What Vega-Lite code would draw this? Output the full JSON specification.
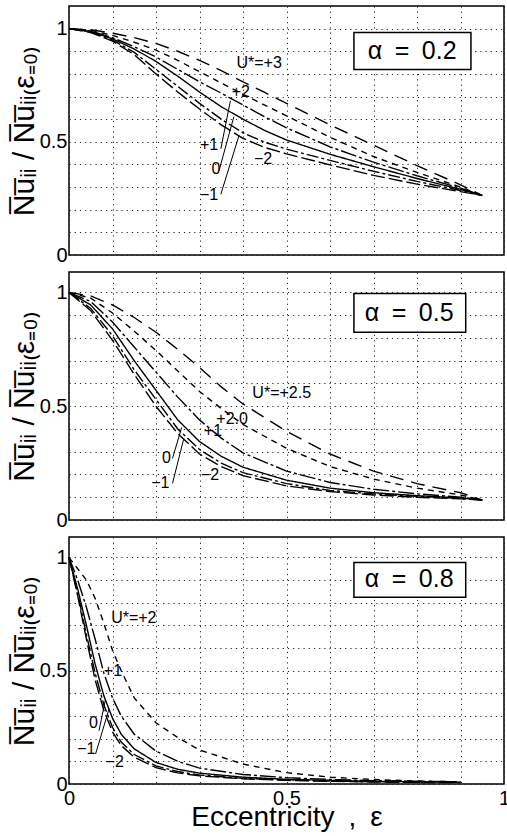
{
"$schema":"https://vega.github.io/schema/vega-lite/v6.json",
"padding":{"left":8,"top":4,"right":2,"bottom":0},
"spacing":17,
"bounds":"flush",
"background":"white",
"config":{
 "view":{"stroke":"black","strokeWidth":1.5},
 "axis":{"labelFont":"Liberation Sans","labelFontSize":20,"labelColor":"black","titleFont":"Liberation Sans","titleColor":"black","titleFontWeight":"normal","domain":false,"tickColor":"black","tickWidth":1.5,"tickSize":0,"gridColor":"#222","gridDash":[1.2,4],"gridWidth":1},
 "text":{"font":"Liberation Sans","color":"black"}
},
"datasets":{
 "c1":[
  {"x":0,"y":1,"U":"+3"},{"x":0.05,"y":0.995,"U":"+3"},{"x":0.1,"y":0.98,"U":"+3"},{"x":0.15,"y":0.96,"U":"+3"},{"x":0.2,"y":0.935,"U":"+3"},{"x":0.25,"y":0.9,"U":"+3"},{"x":0.3,"y":0.86,"U":"+3"},{"x":0.35,"y":0.815,"U":"+3"},{"x":0.4,"y":0.765,"U":"+3"},{"x":0.45,"y":0.718,"U":"+3"},{"x":0.5,"y":0.67,"U":"+3"},{"x":0.6,"y":0.575,"U":"+3"},{"x":0.7,"y":0.485,"U":"+3"},{"x":0.8,"y":0.395,"U":"+3"},{"x":0.9,"y":0.31,"U":"+3"},{"x":0.95,"y":0.263,"U":"+3"},
  {"x":0,"y":1,"U":"+2"},{"x":0.05,"y":0.993,"U":"+2"},{"x":0.1,"y":0.97,"U":"+2"},{"x":0.15,"y":0.94,"U":"+2"},{"x":0.2,"y":0.905,"U":"+2"},{"x":0.25,"y":0.86,"U":"+2"},{"x":0.3,"y":0.81,"U":"+2"},{"x":0.35,"y":0.76,"U":"+2"},{"x":0.4,"y":0.71,"U":"+2"},{"x":0.45,"y":0.662,"U":"+2"},{"x":0.5,"y":0.615,"U":"+2"},{"x":0.6,"y":0.52,"U":"+2"},{"x":0.7,"y":0.435,"U":"+2"},{"x":0.8,"y":0.365,"U":"+2"},{"x":0.9,"y":0.3,"U":"+2"},{"x":0.95,"y":0.263,"U":"+2"},
  {"x":0,"y":1,"U":"+1"},{"x":0.05,"y":0.99,"U":"+1"},{"x":0.1,"y":0.96,"U":"+1"},{"x":0.15,"y":0.92,"U":"+1"},{"x":0.2,"y":0.875,"U":"+1"},{"x":0.25,"y":0.82,"U":"+1"},{"x":0.3,"y":0.765,"U":"+1"},{"x":0.35,"y":0.715,"U":"+1"},{"x":0.4,"y":0.663,"U":"+1"},{"x":0.45,"y":0.61,"U":"+1"},{"x":0.5,"y":0.562,"U":"+1"},{"x":0.6,"y":0.478,"U":"+1"},{"x":0.7,"y":0.41,"U":"+1"},{"x":0.8,"y":0.35,"U":"+1"},{"x":0.9,"y":0.295,"U":"+1"},{"x":0.95,"y":0.263,"U":"+1"},
  {"x":0,"y":1,"U":"0"},{"x":0.05,"y":0.988,"U":"0"},{"x":0.1,"y":0.955,"U":"0"},{"x":0.15,"y":0.91,"U":"0"},{"x":0.2,"y":0.855,"U":"0"},{"x":0.25,"y":0.79,"U":"0"},{"x":0.3,"y":0.72,"U":"0"},{"x":0.35,"y":0.655,"U":"0"},{"x":0.4,"y":0.6,"U":"0"},{"x":0.45,"y":0.55,"U":"0"},{"x":0.5,"y":0.508,"U":"0"},{"x":0.6,"y":0.445,"U":"0"},{"x":0.7,"y":0.39,"U":"0"},{"x":0.8,"y":0.338,"U":"0"},{"x":0.9,"y":0.29,"U":"0"},{"x":0.95,"y":0.263,"U":"0"},
  {"x":0,"y":1,"U":"-1"},{"x":0.05,"y":0.985,"U":"-1"},{"x":0.1,"y":0.95,"U":"-1"},{"x":0.15,"y":0.895,"U":"-1"},{"x":0.2,"y":0.82,"U":"-1"},{"x":0.25,"y":0.745,"U":"-1"},{"x":0.3,"y":0.67,"U":"-1"},{"x":0.35,"y":0.6,"U":"-1"},{"x":0.4,"y":0.54,"U":"-1"},{"x":0.45,"y":0.498,"U":"-1"},{"x":0.5,"y":0.468,"U":"-1"},{"x":0.6,"y":0.418,"U":"-1"},{"x":0.7,"y":0.37,"U":"-1"},{"x":0.8,"y":0.325,"U":"-1"},{"x":0.9,"y":0.285,"U":"-1"},{"x":0.95,"y":0.263,"U":"-1"},
  {"x":0,"y":1,"U":"-2"},{"x":0.05,"y":0.983,"U":"-2"},{"x":0.1,"y":0.945,"U":"-2"},{"x":0.15,"y":0.885,"U":"-2"},{"x":0.2,"y":0.8,"U":"-2"},{"x":0.25,"y":0.72,"U":"-2"},{"x":0.3,"y":0.645,"U":"-2"},{"x":0.35,"y":0.575,"U":"-2"},{"x":0.4,"y":0.515,"U":"-2"},{"x":0.45,"y":0.475,"U":"-2"},{"x":0.5,"y":0.447,"U":"-2"},{"x":0.6,"y":0.398,"U":"-2"},{"x":0.7,"y":0.352,"U":"-2"},{"x":0.8,"y":0.313,"U":"-2"},{"x":0.9,"y":0.28,"U":"-2"},{"x":0.95,"y":0.263,"U":"-2"}
 ],
 "c2":[
  {"x":0,"y":1,"U":"+2.5"},{"x":0.05,"y":0.985,"U":"+2.5"},{"x":0.1,"y":0.945,"U":"+2.5"},{"x":0.15,"y":0.89,"U":"+2.5"},{"x":0.2,"y":0.825,"U":"+2.5"},{"x":0.25,"y":0.75,"U":"+2.5"},{"x":0.3,"y":0.67,"U":"+2.5"},{"x":0.35,"y":0.585,"U":"+2.5"},{"x":0.4,"y":0.51,"U":"+2.5"},{"x":0.5,"y":0.39,"U":"+2.5"},{"x":0.6,"y":0.29,"U":"+2.5"},{"x":0.7,"y":0.215,"U":"+2.5"},{"x":0.8,"y":0.16,"U":"+2.5"},{"x":0.9,"y":0.12,"U":"+2.5"},{"x":0.95,"y":0.088,"U":"+2.5"},
  {"x":0,"y":1,"U":"+2"},{"x":0.05,"y":0.975,"U":"+2"},{"x":0.1,"y":0.91,"U":"+2"},{"x":0.15,"y":0.83,"U":"+2"},{"x":0.2,"y":0.745,"U":"+2"},{"x":0.25,"y":0.655,"U":"+2"},{"x":0.3,"y":0.565,"U":"+2"},{"x":0.35,"y":0.49,"U":"+2"},{"x":0.4,"y":0.42,"U":"+2"},{"x":0.5,"y":0.315,"U":"+2"},{"x":0.6,"y":0.235,"U":"+2"},{"x":0.7,"y":0.18,"U":"+2"},{"x":0.8,"y":0.14,"U":"+2"},{"x":0.9,"y":0.11,"U":"+2"},{"x":0.95,"y":0.088,"U":"+2"},
  {"x":0,"y":1,"U":"+1"},{"x":0.05,"y":0.96,"U":"+1"},{"x":0.1,"y":0.87,"U":"+1"},{"x":0.15,"y":0.76,"U":"+1"},{"x":0.2,"y":0.65,"U":"+1"},{"x":0.25,"y":0.54,"U":"+1"},{"x":0.3,"y":0.44,"U":"+1"},{"x":0.35,"y":0.36,"U":"+1"},{"x":0.4,"y":0.295,"U":"+1"},{"x":0.5,"y":0.215,"U":"+1"},{"x":0.6,"y":0.165,"U":"+1"},{"x":0.7,"y":0.135,"U":"+1"},{"x":0.8,"y":0.115,"U":"+1"},{"x":0.9,"y":0.1,"U":"+1"},{"x":0.95,"y":0.088,"U":"+1"},
  {"x":0,"y":1,"U":"0"},{"x":0.05,"y":0.945,"U":"0"},{"x":0.1,"y":0.84,"U":"0"},{"x":0.15,"y":0.7,"U":"0"},{"x":0.2,"y":0.57,"U":"0"},{"x":0.25,"y":0.44,"U":"0"},{"x":0.3,"y":0.345,"U":"0"},{"x":0.35,"y":0.28,"U":"0"},{"x":0.4,"y":0.232,"U":"0"},{"x":0.5,"y":0.175,"U":"0"},{"x":0.6,"y":0.14,"U":"0"},{"x":0.7,"y":0.12,"U":"0"},{"x":0.8,"y":0.107,"U":"0"},{"x":0.9,"y":0.097,"U":"0"},{"x":0.95,"y":0.088,"U":"0"},
  {"x":0,"y":1,"U":"-1"},{"x":0.05,"y":0.93,"U":"-1"},{"x":0.1,"y":0.81,"U":"-1"},{"x":0.15,"y":0.66,"U":"-1"},{"x":0.2,"y":0.53,"U":"-1"},{"x":0.25,"y":0.4,"U":"-1"},{"x":0.3,"y":0.31,"U":"-1"},{"x":0.35,"y":0.25,"U":"-1"},{"x":0.4,"y":0.208,"U":"-1"},{"x":0.5,"y":0.16,"U":"-1"},{"x":0.6,"y":0.13,"U":"-1"},{"x":0.7,"y":0.115,"U":"-1"},{"x":0.8,"y":0.104,"U":"-1"},{"x":0.9,"y":0.095,"U":"-1"},{"x":0.95,"y":0.088,"U":"-1"},
  {"x":0,"y":1,"U":"-2"},{"x":0.05,"y":0.92,"U":"-2"},{"x":0.1,"y":0.79,"U":"-2"},{"x":0.15,"y":0.64,"U":"-2"},{"x":0.2,"y":0.5,"U":"-2"},{"x":0.25,"y":0.38,"U":"-2"},{"x":0.3,"y":0.29,"U":"-2"},{"x":0.35,"y":0.235,"U":"-2"},{"x":0.4,"y":0.195,"U":"-2"},{"x":0.5,"y":0.15,"U":"-2"},{"x":0.6,"y":0.125,"U":"-2"},{"x":0.7,"y":0.11,"U":"-2"},{"x":0.8,"y":0.1,"U":"-2"},{"x":0.9,"y":0.093,"U":"-2"},{"x":0.95,"y":0.088,"U":"-2"}
 ],
 "c3":[
  {"x":0,"y":1,"U":"+2"},{"x":0.02,"y":0.95,"U":"+2"},{"x":0.04,"y":0.9,"U":"+2"},{"x":0.06,"y":0.82,"U":"+2"},{"x":0.08,"y":0.71,"U":"+2"},{"x":0.1,"y":0.59,"U":"+2"},{"x":0.12,"y":0.5,"U":"+2"},{"x":0.15,"y":0.38,"U":"+2"},{"x":0.2,"y":0.27,"U":"+2"},{"x":0.25,"y":0.205,"U":"+2"},{"x":0.3,"y":0.15,"U":"+2"},{"x":0.4,"y":0.088,"U":"+2"},{"x":0.5,"y":0.05,"U":"+2"},{"x":0.6,"y":0.03,"U":"+2"},{"x":0.7,"y":0.02,"U":"+2"},{"x":0.8,"y":0.013,"U":"+2"},{"x":0.9,"y":0.01,"U":"+2"},
  {"x":0,"y":1,"U":"+1"},{"x":0.02,"y":0.9,"U":"+1"},{"x":0.04,"y":0.78,"U":"+1"},{"x":0.06,"y":0.64,"U":"+1"},{"x":0.08,"y":0.49,"U":"+1"},{"x":0.1,"y":0.38,"U":"+1"},{"x":0.12,"y":0.3,"U":"+1"},{"x":0.15,"y":0.22,"U":"+1"},{"x":0.2,"y":0.145,"U":"+1"},{"x":0.25,"y":0.1,"U":"+1"},{"x":0.3,"y":0.07,"U":"+1"},{"x":0.4,"y":0.042,"U":"+1"},{"x":0.5,"y":0.028,"U":"+1"},{"x":0.6,"y":0.02,"U":"+1"},{"x":0.7,"y":0.015,"U":"+1"},{"x":0.8,"y":0.012,"U":"+1"},{"x":0.9,"y":0.01,"U":"+1"},
  {"x":0,"y":1,"U":"0"},{"x":0.02,"y":0.86,"U":"0"},{"x":0.04,"y":0.7,"U":"0"},{"x":0.06,"y":0.53,"U":"0"},{"x":0.08,"y":0.39,"U":"0"},{"x":0.1,"y":0.29,"U":"0"},{"x":0.12,"y":0.22,"U":"0"},{"x":0.15,"y":0.155,"U":"0"},{"x":0.2,"y":0.095,"U":"0"},{"x":0.25,"y":0.065,"U":"0"},{"x":0.3,"y":0.048,"U":"0"},{"x":0.4,"y":0.03,"U":"0"},{"x":0.5,"y":0.021,"U":"0"},{"x":0.6,"y":0.016,"U":"0"},{"x":0.7,"y":0.012,"U":"0"},{"x":0.8,"y":0.01,"U":"0"},{"x":0.9,"y":0.008,"U":"0"},
  {"x":0,"y":1,"U":"-1"},{"x":0.02,"y":0.84,"U":"-1"},{"x":0.04,"y":0.66,"U":"-1"},{"x":0.06,"y":0.49,"U":"-1"},{"x":0.08,"y":0.35,"U":"-1"},{"x":0.1,"y":0.25,"U":"-1"},{"x":0.12,"y":0.185,"U":"-1"},{"x":0.15,"y":0.13,"U":"-1"},{"x":0.2,"y":0.08,"U":"-1"},{"x":0.25,"y":0.055,"U":"-1"},{"x":0.3,"y":0.04,"U":"-1"},{"x":0.4,"y":0.025,"U":"-1"},{"x":0.5,"y":0.018,"U":"-1"},{"x":0.6,"y":0.013,"U":"-1"},{"x":0.7,"y":0.01,"U":"-1"},{"x":0.8,"y":0.008,"U":"-1"},{"x":0.9,"y":0.007,"U":"-1"},
  {"x":0,"y":1,"U":"-2"},{"x":0.02,"y":0.83,"U":"-2"},{"x":0.04,"y":0.64,"U":"-2"},{"x":0.06,"y":0.46,"U":"-2"},{"x":0.08,"y":0.325,"U":"-2"},{"x":0.1,"y":0.23,"U":"-2"},{"x":0.12,"y":0.17,"U":"-2"},{"x":0.15,"y":0.118,"U":"-2"},{"x":0.2,"y":0.072,"U":"-2"},{"x":0.25,"y":0.049,"U":"-2"},{"x":0.3,"y":0.036,"U":"-2"},{"x":0.4,"y":0.023,"U":"-2"},{"x":0.5,"y":0.016,"U":"-2"},{"x":0.6,"y":0.012,"U":"-2"},{"x":0.7,"y":0.009,"U":"-2"},{"x":0.8,"y":0.007,"U":"-2"},{"x":0.9,"y":0.006,"U":"-2"}
 ],
 "lab1":[{"x":0.437,"y":0.848,"t":"U*=+3"},{"x":0.395,"y":0.718,"t":"+2"},{"x":0.322,"y":0.485,"t":"+1"},{"x":0.338,"y":0.379,"t":"0"},{"x":0.322,"y":0.267,"t":"−1"},{"x":0.446,"y":0.423,"t":"−2"}],
 "lead1":[{"x":0.349,"y":0.469,"x2":0.371,"y2":0.681},{"x":0.345,"y":0.373,"x2":0.379,"y2":0.611},{"x":0.349,"y":0.268,"x2":0.391,"y2":0.529}],
 "lab2":[{"x":0.489,"y":0.556,"t":"U*=+2.5"},{"x":0.375,"y":0.442,"t":"+2.0"},{"x":0.331,"y":0.392,"t":"+1"},{"x":0.224,"y":0.271,"t":"0"},{"x":0.21,"y":0.161,"t":"−1"},{"x":0.324,"y":0.198,"t":"−2"}],
 "lead2":[{"x":0.238,"y":0.271,"x2":0.259,"y2":0.407},{"x":0.238,"y":0.161,"x2":0.264,"y2":0.359}],
 "lab3":[{"x":0.149,"y":0.732,"t":"U*=+2"},{"x":0.101,"y":0.5,"t":"+1"},{"x":0.056,"y":0.267,"t":"0"},{"x":0.04,"y":0.154,"t":"−1"},{"x":0.105,"y":0.096,"t":"−2"}],
 "lead3":[{"x":0.069,"y":0.235,"x2":0.084,"y2":0.375},{"x":0.061,"y":0.132,"x2":0.092,"y2":0.331}],
 "box1":[{"x":0.655,"x2":0.924,"y":0.82,"y2":0.983,"tx":0.789,"ty":0.901,"t":"α\u2002=\u20020.2"}],
 "box2":[{"x":0.655,"x2":0.912,"y":0.825,"y2":0.996,"tx":0.782,"ty":0.911,"t":"α\u2002=\u20020.5"}],
 "box3":[{"x":0.655,"x2":0.912,"y":0.824,"y2":0.978,"tx":0.782,"ty":0.903,"t":"α\u2002=\u20020.8"}]
},
"vconcat":[
 {"width":435,"height":249,
  "resolve":{"axis":{"x":"independent","y":"independent"}},
  "layer":[
   {"data":{"name":"box1"},"mark":{"type":"rect","fill":"white","stroke":"black","strokeWidth":1.5},
    "encoding":{
     "x":{"field":"x","type":"quantitative","scale":{"domain":[0,1],"nice":false},"axis":{"orient":"bottom","values":[0,0.1,0.2,0.3,0.4,0.5,0.6,0.7,0.8,0.9,1],"grid":true,"labels":false,"title":null,"encode":{"ticks":{"update":{"y2":{"signal":"datum.value === 0.5 ? -20 : -10"}}}}}},
     "x2":{"field":"x2"},
     "y":{"field":"y","type":"quantitative","scale":{"domain":[0,1.1],"nice":false},"axis":{"orient":"left","values":[0,0.1,0.2,0.3,0.4,0.5,0.6,0.7,0.8,0.9,1],"grid":true,"labelPadding":2,"labelExpr":"datum.value === 0 ? '0' : datum.value === 0.5 ? '0.5' : datum.value === 1 ? '1' : ''","title":"N\u0305u\u0305\u1d62\u1d62 / N\u0305u\u0305\u1d62\u1d62\u208d\u03b5\u208c\u2080\u208e","titleFontSize":30,"titleX":-45,"titleAlign":"center","titleBaseline":"middle","encode":{"ticks":{"update":{"x2":{"signal":"datum.value === 0.5 ? 20 : 8"}}}}}},
     "y2":{"field":"y2"}}},
   {"data":{"name":"c1"},"mark":{"type":"line","color":"black","strokeWidth":1.4},
    "encoding":{
     "x":{"field":"x","type":"quantitative","axis":{"orient":"top","values":[0,0.1,0.2,0.3,0.4,0.5,0.6,0.7,0.8,0.9,1],"grid":false,"labels":false,"title":null,"encode":{"ticks":{"update":{"y2":{"value":15}}}}}},
     "y":{"field":"y","type":"quantitative","axis":{"orient":"right","values":[0,0.1,0.2,0.3,0.4,0.5,0.6,0.7,0.8,0.9,1],"grid":false,"labels":false,"title":null,"encode":{"ticks":{"update":{"x2":{"signal":"datum.value === 0.5 ? -20 : -8"}}}}}},
     "strokeDash":{"field":"U","type":"nominal","legend":null,"scale":{"domain":["-2","-1","0","+1","+2","+2.5","+3"],"range":[[14,4],[12,3,3,3],[1,0],[16,3,3,3],[6,5],[14,8],[14,8]]}}}},
   {"data":{"name":"lead1"},"mark":{"type":"rule","color":"black","strokeWidth":1},
    "encoding":{"x":{"field":"x","type":"quantitative","axis":null},"y":{"field":"y","type":"quantitative","axis":null},"x2":{"field":"x2"},"y2":{"field":"y2"}}},
   {"data":{"name":"lab1"},"mark":{"type":"text","fontSize":16,"align":"center","baseline":"middle"},
    "encoding":{"x":{"field":"x","type":"quantitative","axis":null},"y":{"field":"y","type":"quantitative","axis":null},"text":{"field":"t"}}},
   {"data":{"name":"box1"},"mark":{"type":"text","fontSize":25,"align":"center","baseline":"middle"},
    "encoding":{"x":{"field":"tx","type":"quantitative","axis":null},"y":{"field":"ty","type":"quantitative","axis":null},"text":{"field":"t"}}}
  ]},
 {"width":435,"height":248,
  "resolve":{"axis":{"x":"independent","y":"independent"}},
  "layer":[
   {"data":{"name":"box2"},"mark":{"type":"rect","fill":"white","stroke":"black","strokeWidth":1.5},
    "encoding":{
     "x":{"field":"x","type":"quantitative","scale":{"domain":[0,1],"nice":false},"axis":{"orient":"bottom","values":[0,0.1,0.2,0.3,0.4,0.5,0.6,0.7,0.8,0.9,1],"grid":true,"labels":false,"title":null,"encode":{"ticks":{"update":{"y2":{"signal":"datum.value === 0.5 ? -20 : -10"}}}}}},
     "x2":{"field":"x2"},
     "y":{"field":"y","type":"quantitative","scale":{"domain":[0,1.09],"nice":false},"axis":{"orient":"left","values":[0,0.1,0.2,0.3,0.4,0.5,0.6,0.7,0.8,0.9,1],"grid":true,"labelPadding":2,"labelExpr":"datum.value === 0 ? '0' : datum.value === 0.5 ? '0.5' : datum.value === 1 ? '1' : ''","title":"N\u0305u\u0305\u1d62\u1d62 / N\u0305u\u0305\u1d62\u1d62\u208d\u03b5\u208c\u2080\u208e","titleFontSize":30,"titleX":-45,"titleAlign":"center","titleBaseline":"middle","encode":{"ticks":{"update":{"x2":{"signal":"datum.value === 0.5 ? 20 : 8"}}}}}},
     "y2":{"field":"y2"}}},
   {"data":{"name":"c2"},"mark":{"type":"line","color":"black","strokeWidth":1.4},
    "encoding":{
     "x":{"field":"x","type":"quantitative","axis":{"orient":"top","values":[0,0.1,0.2,0.3,0.4,0.5,0.6,0.7,0.8,0.9,1],"grid":false,"labels":false,"title":null,"encode":{"ticks":{"update":{"y2":{"value":15}}}}}},
     "y":{"field":"y","type":"quantitative","axis":{"orient":"right","values":[0,0.1,0.2,0.3,0.4,0.5,0.6,0.7,0.8,0.9,1],"grid":false,"labels":false,"title":null,"encode":{"ticks":{"update":{"x2":{"signal":"datum.value === 0.5 ? -20 : -8"}}}}}},
     "strokeDash":{"field":"U","type":"nominal","legend":null,"scale":{"domain":["-2","-1","0","+1","+2","+2.5","+3"],"range":[[14,4],[12,3,3,3],[1,0],[16,3,3,3],[6,5],[14,8],[14,8]]}}}},
   {"data":{"name":"lead2"},"mark":{"type":"rule","color":"black","strokeWidth":1},
    "encoding":{"x":{"field":"x","type":"quantitative","axis":null},"y":{"field":"y","type":"quantitative","axis":null},"x2":{"field":"x2"},"y2":{"field":"y2"}}},
   {"data":{"name":"lab2"},"mark":{"type":"text","fontSize":16,"align":"center","baseline":"middle"},
    "encoding":{"x":{"field":"x","type":"quantitative","axis":null},"y":{"field":"y","type":"quantitative","axis":null},"text":{"field":"t"}}},
   {"data":{"name":"box2"},"mark":{"type":"text","fontSize":25,"align":"center","baseline":"middle"},
    "encoding":{"x":{"field":"tx","type":"quantitative","axis":null},"y":{"field":"ty","type":"quantitative","axis":null},"text":{"field":"t"}}}
  ]},
 {"width":435,"height":247,
  "resolve":{"axis":{"x":"independent","y":"independent"}},
  "layer":[
   {"data":{"name":"box3"},"mark":{"type":"rect","fill":"white","stroke":"black","strokeWidth":1.5},
    "encoding":{
     "x":{"field":"x","type":"quantitative","scale":{"domain":[0,1],"nice":false},"axis":{"orient":"bottom","values":[0,0.1,0.2,0.3,0.4,0.5,0.6,0.7,0.8,0.9,1],"grid":true,"labels":true,"labelFlush":false,"labelPadding":4,"labelExpr":"datum.value === 0 ? '0' : datum.value === 0.5 ? '0.5' : datum.value === 1 ? '1' : ''","title":"Eccentricity\u2002,\u2002ε","titleFontSize":28,"titlePadding":-5,"encode":{"ticks":{"update":{"y2":{"signal":"datum.value === 0.5 ? -20 : -10"}}}}}},
     "x2":{"field":"x2"},
     "y":{"field":"y","type":"quantitative","scale":{"domain":[0,1.09],"nice":false},"axis":{"orient":"left","values":[0,0.1,0.2,0.3,0.4,0.5,0.6,0.7,0.8,0.9,1],"grid":true,"labelPadding":2,"labelExpr":"datum.value === 0 ? '0' : datum.value === 0.5 ? '0.5' : datum.value === 1 ? '1' : ''","title":"N\u0305u\u0305\u1d62\u1d62 / N\u0305u\u0305\u1d62\u1d62\u208d\u03b5\u208c\u2080\u208e","titleFontSize":30,"titleX":-45,"titleAlign":"center","titleBaseline":"middle","encode":{"ticks":{"update":{"x2":{"signal":"datum.value === 0.5 ? 20 : 8"}}}}}},
     "y2":{"field":"y2"}}},
   {"data":{"name":"c3"},"mark":{"type":"line","color":"black","strokeWidth":1.4},
    "encoding":{
     "x":{"field":"x","type":"quantitative","axis":{"orient":"top","values":[0,0.1,0.2,0.3,0.4,0.5,0.6,0.7,0.8,0.9,1],"grid":false,"labels":false,"title":null,"encode":{"ticks":{"update":{"y2":{"value":15}}}}}},
     "y":{"field":"y","type":"quantitative","axis":{"orient":"right","values":[0,0.1,0.2,0.3,0.4,0.5,0.6,0.7,0.8,0.9,1],"grid":false,"labels":false,"title":null,"encode":{"ticks":{"update":{"x2":{"signal":"datum.value === 0.5 ? -20 : -8"}}}}}},
     "strokeDash":{"field":"U","type":"nominal","legend":null,"scale":{"domain":["-2","-1","0","+1","+2","+2.5","+3"],"range":[[14,4],[12,3,3,3],[1,0],[16,3,3,3],[6,5],[14,8],[14,8]]}}}},
   {"data":{"name":"lead3"},"mark":{"type":"rule","color":"black","strokeWidth":1},
    "encoding":{"x":{"field":"x","type":"quantitative","axis":null},"y":{"field":"y","type":"quantitative","axis":null},"x2":{"field":"x2"},"y2":{"field":"y2"}}},
   {"data":{"name":"lab3"},"mark":{"type":"text","fontSize":16,"align":"center","baseline":"middle"},
    "encoding":{"x":{"field":"x","type":"quantitative","axis":null},"y":{"field":"y","type":"quantitative","axis":null},"text":{"field":"t"}}},
   {"data":{"name":"box3"},"mark":{"type":"text","fontSize":25,"align":"center","baseline":"middle"},
    "encoding":{"x":{"field":"tx","type":"quantitative","axis":null},"y":{"field":"ty","type":"quantitative","axis":null},"text":{"field":"t"}}}
  ]}
]
}
